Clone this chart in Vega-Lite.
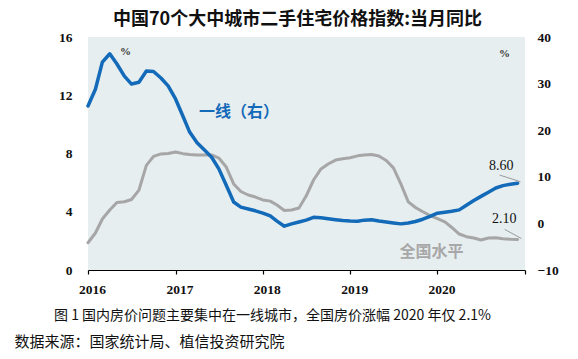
{
  "$schema": "https://vega.github.io/schema/vega-lite/v6.json",
  "width": 437,
  "height": 233,
  "autosize": {"type": "none"},
  "padding": {"left": 88, "top": 37, "right": 53, "bottom": 89},
  "background": "#ffffff",
  "title": {
    "text": "中国70个大中城市二手住宅价格指数:当月同比",
    "font": "Noto Sans CJK SC",
    "fontWeight": "bold",
    "fontSize": 18,
    "color": "#111111",
    "anchor": "middle",
    "dx": -9,
    "offset": 1
  },
  "config": {
    "view": {"fill": "#e7eef0", "stroke": null},
    "axis": {
      "grid": false,
      "labelFont": "Liberation Sans Narrow",
      "labelFontWeight": "bold",
      "labelFontSize": 13.5,
      "labelColor": "#111111"
    }
  },
  "datasets": {
    "series": [
      {"date": "2016-01-01", "nat": 1.87, "tier1": 25.2},
      {"date": "2016-02-01", "nat": 2.54, "tier1": 28.8},
      {"date": "2016-03-01", "nat": 3.5, "tier1": 34.6},
      {"date": "2016-04-01", "nat": 4.12, "tier1": 36.4},
      {"date": "2016-05-01", "nat": 4.64, "tier1": 34.2},
      {"date": "2016-06-01", "nat": 4.69, "tier1": 31.6},
      {"date": "2016-07-01", "nat": 4.84, "tier1": 29.9},
      {"date": "2016-08-01", "nat": 5.49, "tier1": 30.3},
      {"date": "2016-09-01", "nat": 7.18, "tier1": 32.7},
      {"date": "2016-10-01", "nat": 7.8, "tier1": 32.6},
      {"date": "2016-11-01", "nat": 7.97, "tier1": 31.2},
      {"date": "2016-12-01", "nat": 8.0, "tier1": 29.5},
      {"date": "2017-01-01", "nat": 8.1, "tier1": 26.7},
      {"date": "2017-02-01", "nat": 7.99, "tier1": 23.0},
      {"date": "2017-03-01", "nat": 7.93, "tier1": 19.6},
      {"date": "2017-04-01", "nat": 7.9, "tier1": 17.3},
      {"date": "2017-05-01", "nat": 7.9, "tier1": 15.8},
      {"date": "2017-06-01", "nat": 7.9, "tier1": 14.2},
      {"date": "2017-07-01", "nat": 7.69, "tier1": 11.7},
      {"date": "2017-08-01", "nat": 7.07, "tier1": 8.2},
      {"date": "2017-09-01", "nat": 5.91, "tier1": 4.6},
      {"date": "2017-10-01", "nat": 5.39, "tier1": 3.5},
      {"date": "2017-11-01", "nat": 5.15, "tier1": 3.1},
      {"date": "2017-12-01", "nat": 5.01, "tier1": 2.7},
      {"date": "2018-01-01", "nat": 4.81, "tier1": 2.2},
      {"date": "2018-02-01", "nat": 4.73, "tier1": 1.6},
      {"date": "2018-03-01", "nat": 4.46, "tier1": 0.5},
      {"date": "2018-04-01", "nat": 4.09, "tier1": -0.6},
      {"date": "2018-05-01", "nat": 4.12, "tier1": -0.1},
      {"date": "2018-06-01", "nat": 4.26, "tier1": 0.3},
      {"date": "2018-07-01", "nat": 5.08, "tier1": 0.7},
      {"date": "2018-08-01", "nat": 6.18, "tier1": 1.3},
      {"date": "2018-09-01", "nat": 6.94, "tier1": 1.2},
      {"date": "2018-10-01", "nat": 7.28, "tier1": 1.0},
      {"date": "2018-11-01", "nat": 7.55, "tier1": 0.8},
      {"date": "2018-12-01", "nat": 7.64, "tier1": 0.6},
      {"date": "2019-01-01", "nat": 7.71, "tier1": 0.5},
      {"date": "2019-02-01", "nat": 7.84, "tier1": 0.45},
      {"date": "2019-03-01", "nat": 7.9, "tier1": 0.7},
      {"date": "2019-04-01", "nat": 7.93, "tier1": 0.8},
      {"date": "2019-05-01", "nat": 7.83, "tier1": 0.5},
      {"date": "2019-06-01", "nat": 7.52, "tier1": 0.3},
      {"date": "2019-07-01", "nat": 7.01, "tier1": 0.1},
      {"date": "2019-08-01", "nat": 5.91, "tier1": -0.1},
      {"date": "2019-09-01", "nat": 4.68, "tier1": 0.1},
      {"date": "2019-10-01", "nat": 4.29, "tier1": 0.4},
      {"date": "2019-11-01", "nat": 4.0, "tier1": 0.9},
      {"date": "2019-12-01", "nat": 3.74, "tier1": 1.5},
      {"date": "2020-01-01", "nat": 3.52, "tier1": 2.2},
      {"date": "2020-02-01", "nat": 3.3, "tier1": 2.4},
      {"date": "2020-03-01", "nat": 2.92, "tier1": 2.6},
      {"date": "2020-04-01", "nat": 2.47, "tier1": 2.9},
      {"date": "2020-05-01", "nat": 2.29, "tier1": 3.9},
      {"date": "2020-06-01", "nat": 2.2, "tier1": 4.9},
      {"date": "2020-07-01", "nat": 2.06, "tier1": 5.8},
      {"date": "2020-08-01", "nat": 2.2, "tier1": 6.7},
      {"date": "2020-09-01", "nat": 2.22, "tier1": 7.6},
      {"date": "2020-10-01", "nat": 2.15, "tier1": 8.1},
      {"date": "2020-11-01", "nat": 2.11, "tier1": 8.4},
      {"date": "2020-12-01", "nat": 2.1, "tier1": 8.6}
    ],
    "labels": [
      {"kind": "tier1", "date": "2017-09-23", "v": 10.84, "text": "一线（右）"},
      {"kind": "nat", "date": "2019-12-07", "v": 1.23, "text": "全国水平"},
      {"kind": "value", "date": "2020-09-24", "v": 7.15, "text": "8.60"},
      {"kind": "value", "date": "2020-10-06", "v": 3.5, "text": "2.10"}
    ],
    "leaders": [
      {"d1": "2020-09-17", "v1": 6.52, "d2": "2020-12-13", "v2": 6.06},
      {"d1": "2020-10-08", "v1": 2.79, "d2": "2020-12-17", "v2": 2.16}
    ]
  },
  "layer": [
    {
      "data": {"name": "series"},
      "mark": {"type": "line", "color": "#a6a6a6", "strokeWidth": 3, "strokeJoin": "round", "strokeCap": "round"},
      "encoding": {
        "x": {
          "field": "date",
          "type": "temporal",
          "scale": {"domain": [{"year": 2016, "month": 1, "date": 1}, {"year": 2021, "month": 1, "date": 1}]},
          "axis": {
            "values": [
              {"year": 2016, "month": 1, "date": 1},
              {"year": 2017, "month": 1, "date": 1},
              {"year": 2018, "month": 1, "date": 1},
              {"year": 2019, "month": 1, "date": 1},
              {"year": 2020, "month": 1, "date": 1},
              {"year": 2021, "month": 1, "date": 1}
            ],
            "format": "%Y",
            "labelExpr": "datum.label == '2021' ? '' : datum.label",
            "labelFlush": false,
            "labelOverlap": false,
            "labelPadding": 8,
            "labelOffset": 4,
            "domainColor": "#000000",
            "domainWidth": 1.2,
            "tickColor": "#000000",
            "tickWidth": 1.2,
            "tickSize": 4,
            "title": "图 1 国内房价问题主要集中在一线城市，全国房价涨幅 2020 年仅 2.1%",
            "titleFont": "Noto Sans CJK SC",
            "titleFontWeight": "normal",
            "titleFontSize": 14,
            "titleColor": "#111111",
            "titleX": 184,
            "titleY": 45,
            "titleAlign": "center",
            "titleBaseline": "middle"
          }
        },
        "y": {
          "field": "nat",
          "type": "quantitative",
          "scale": {"domain": [0, 16], "nice": false, "zero": false},
          "axis": {
            "orient": "left",
            "values": [0, 4, 8, 12, 16],
            "domain": false,
            "ticks": false,
            "labelPadding": 16,
            "title": "%",
            "titleAngle": 0,
            "titleX": 37,
            "titleY": 14,
            "titleAlign": "center",
            "titleBaseline": "middle",
            "titleFont": "Liberation Sans Narrow",
            "titleFontSize": 11,
            "titleFontWeight": "bold",
            "titleColor": "#333333"
          }
        }
      }
    },
    {
      "data": {"name": "series"},
      "mark": {"type": "line", "color": "#136ab8", "strokeWidth": 3.5, "strokeJoin": "round", "strokeCap": "round"},
      "encoding": {
        "x": {
          "field": "date",
          "type": "temporal",
          "axis": {
            "orient": "bottom",
            "domain": false,
            "ticks": false,
            "labels": false,
            "title": "数据来源：国家统计局、植信投资研究院",
            "titleFont": "Noto Sans CJK SC",
            "titleFontWeight": "normal",
            "titleFontSize": 15,
            "titleColor": "#111111",
            "titleX": -74,
            "titleY": 71,
            "titleAlign": "left",
            "titleBaseline": "middle"
          }
        },
        "y": {
          "field": "tier1",
          "type": "quantitative",
          "scale": {"domain": [-10, 40], "nice": false, "zero": false},
          "axis": {
            "orient": "right",
            "values": [-10, 0, 10, 20, 30, 40],
            "domain": false,
            "ticks": false,
            "labelPadding": 12,
            "labelExpr": "datum.value < 0 ? '−' + abs(datum.value) : datum.label",
            "title": "%",
            "titleAngle": 0,
            "titleX": -21,
            "titleY": 16,
            "titleAlign": "center",
            "titleBaseline": "middle",
            "titleFont": "Liberation Sans Narrow",
            "titleFontSize": 11,
            "titleFontWeight": "bold",
            "titleColor": "#333333"
          }
        }
      }
    },
    {
      "data": {"name": "leaders"},
      "mark": {"type": "rule", "color": "#9a9a9a", "strokeWidth": 1},
      "encoding": {
        "x": {"field": "d1", "type": "temporal", "axis": null},
        "x2": {"field": "d2"},
        "y": {"field": "v1", "type": "quantitative", "scale": {"domain": [0, 16], "nice": false, "zero": false}, "axis": null},
        "y2": {"field": "v2"}
      }
    },
    {
      "data": {"name": "labels"},
      "transform": [{"filter": "datum.kind == 'tier1'"}],
      "mark": {"type": "text", "color": "#136ab8", "font": "Noto Sans CJK SC", "fontWeight": "bold", "fontSize": 16, "align": "center", "baseline": "middle"},
      "encoding": {
        "x": {"field": "date", "type": "temporal", "axis": null},
        "y": {"field": "v", "type": "quantitative", "scale": {"domain": [0, 16], "nice": false, "zero": false}, "axis": null},
        "text": {"field": "text"}
      }
    },
    {
      "data": {"name": "labels"},
      "transform": [{"filter": "datum.kind == 'nat'"}],
      "mark": {"type": "text", "color": "#a8a8a8", "font": "Noto Sans CJK SC", "fontWeight": "bold", "fontSize": 16, "align": "center", "baseline": "middle"},
      "encoding": {
        "x": {"field": "date", "type": "temporal", "axis": null},
        "y": {"field": "v", "type": "quantitative", "scale": {"domain": [0, 16], "nice": false, "zero": false}, "axis": null},
        "text": {"field": "text"}
      }
    },
    {
      "data": {"name": "labels"},
      "transform": [{"filter": "datum.kind == 'value'"}],
      "mark": {"type": "text", "color": "#111111", "font": "Liberation Sans Narrow", "fontSize": 14, "align": "center", "baseline": "middle"},
      "encoding": {
        "x": {"field": "date", "type": "temporal", "axis": null},
        "y": {"field": "v", "type": "quantitative", "scale": {"domain": [0, 16], "nice": false, "zero": false}, "axis": null},
        "text": {"field": "text"}
      }
    }
  ],
  "resolve": {
    "scale": {"y": "independent"},
    "axis": {"x": "independent", "y": "independent"}
  }
}
